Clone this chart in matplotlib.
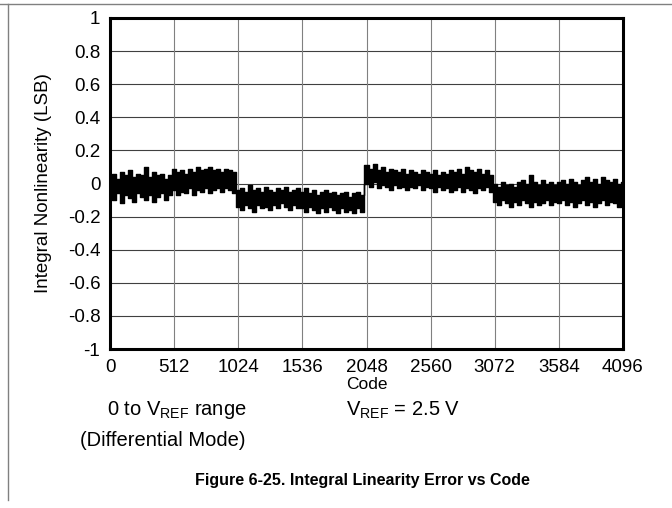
import numpy as np
import matplotlib
matplotlib.use("Agg")
import matplotlib.pyplot as plt

plt.rcParams['font.family'] = ['Liberation Sans', 'DejaVu Sans']
plt.rcParams['mathtext.fontset'] = 'custom'
plt.rcParams['mathtext.rm'] = 'Liberation Sans'
plt.rcParams['mathtext.it'] = 'Liberation Sans:italic'

# code axis sampled every 32 codes
codes = np.arange(0, 4097, 32)

# upper / lower envelope of the INL trace, read per 512-code block
upper = [
    0.04, 0.06, 0.03, 0.07, 0.05, 0.08, 0.04, 0.06, 0.05, 0.10, 0.04, 0.07, 0.05, 0.06, 0.03, 0.05,
    0.09, 0.07, 0.08, 0.06, 0.09, 0.07, 0.10, 0.08, 0.09, 0.10, 0.08, 0.09, 0.07, 0.09, 0.08, 0.07,
    -0.04, -0.03, -0.05, -0.01, -0.04, -0.03, -0.05, -0.02, -0.04, -0.05, -0.03, -0.04, -0.02, -0.05, -0.04, -0.03,
    -0.05, -0.03, -0.06, -0.04, -0.07, -0.05, -0.04, -0.06, -0.05, -0.07, -0.06, -0.05, -0.08, -0.06, -0.05, -0.07,
    0.11, 0.09, 0.12, 0.08, 0.10, 0.07, 0.09, 0.08, 0.07, 0.09, 0.06, 0.08, 0.07, 0.06, 0.08, 0.07,
    0.06, 0.08, 0.05, 0.07, 0.06, 0.08, 0.07, 0.09, 0.06, 0.10, 0.08, 0.07, 0.09, 0.06, 0.08, 0.05,
    0.00, -0.02, 0.01, -0.01, 0.00, -0.02, 0.01, 0.02, 0.00, 0.05, 0.01, -0.01, 0.02, 0.00, 0.01, -0.01,
    0.01, 0.02, 0.00, 0.03, 0.01, -0.01, 0.02, 0.04, 0.01, 0.03, 0.00, 0.04, 0.02, 0.01, 0.03, 0.00,
    0.01,
]
lower = [
    -0.08, -0.10, -0.06, -0.12, -0.07, -0.09, -0.11, -0.06, -0.08, -0.10, -0.07, -0.11, -0.08, -0.06, -0.10, -0.07,
    -0.04, -0.07, -0.05, -0.06, -0.03, -0.07, -0.04, -0.05, -0.03, -0.06, -0.04, -0.03, -0.05, -0.03, -0.04, -0.06,
    -0.14, -0.16, -0.13, -0.15, -0.17, -0.13, -0.15, -0.14, -0.16, -0.13, -0.15, -0.12, -0.14, -0.16, -0.13, -0.15,
    -0.15, -0.17, -0.14, -0.16, -0.18, -0.15, -0.17, -0.14, -0.16, -0.18, -0.15, -0.17, -0.16, -0.18, -0.15, -0.17,
    0.00, -0.02, 0.01, -0.03, -0.01, -0.02, -0.04, -0.01, -0.03, -0.02, -0.04, -0.02, -0.03, -0.01, -0.04, -0.02,
    -0.03, -0.05, -0.02, -0.04, -0.03, -0.05, -0.04, -0.02, -0.05, -0.03, -0.04, -0.06, -0.03, -0.04, -0.02, -0.05,
    -0.11, -0.13, -0.10, -0.12, -0.14, -0.11, -0.13, -0.10, -0.12, -0.14, -0.11, -0.13, -0.12, -0.10, -0.13, -0.11,
    -0.12, -0.10, -0.13, -0.11, -0.14, -0.12, -0.10, -0.13, -0.11, -0.14, -0.12, -0.10, -0.13, -0.11, -0.12, -0.14,
    -0.12,
]

xticks = [0, 512, 1024, 1536, 2048, 2560, 3072, 3584, 4096]
yticks = [1, 0.8, 0.6, 0.4, 0.2, 0, -0.2, -0.4, -0.6, -0.8, -1]
ylabels = ['1', '0.8', '0.6', '0.4', '0.2', '0', '-0.2', '-0.4', '-0.6', '-0.8', '-1']

fig = plt.figure(figsize=(6.72, 5.08), dpi=100)
ax = fig.add_axes([110/672, 1 - 349/508, 513/672, 331/508])

ax.fill_between(codes, lower, upper, step='mid', color='black', lw=1.0, edgecolor='black')

ax.set_xlim(0, 4096)
ax.set_ylim(-1, 1)
ax.set_xticks(xticks)
ax.set_yticks(yticks)
ax.set_yticklabels(ylabels)
ax.tick_params(length=0, labelsize=13.5)
ax.tick_params(axis='x', pad=7.5)
ax.tick_params(axis='y', pad=7)
for y in yticks[1:-1]:
    ax.axhline(y, color='#404040', lw=0.8, zorder=0)
for x in xticks[1:-1]:
    ax.axvline(x, color='#808080', lw=0.8, zorder=0)
for s in ax.spines.values():
    s.set_linewidth(2.2)
ax.set_xlabel('Code', fontsize=12.5)
ax.xaxis.set_label_coords(0.5, -(377 - 349) / 331)
ax.set_ylabel('Integral Nonlinearity (LSB)', fontsize=13.5)
ax.yaxis.set_label_coords(-58/513, 0.5)

# page frame lines
fig.add_artist(plt.Line2D([0, 1], [1 - 4/508, 1 - 4/508], color='#808080', lw=1))
fig.add_artist(plt.Line2D([8/672, 8/672], [1 - 4/508, 1 - 500/508], color='#808080', lw=1))

fig.text(107/672, 1 - 410/508, r'0 to V$_{\mathrm{REF}}$ range', fontsize=14.5, va='center')
fig.text(346/672, 1 - 410/508, r'V$_{\mathrm{REF}}$ = 2.5 V', fontsize=14.5, va='center')
fig.text(80/672, 1 - 441/508, '(Differential Mode)', fontsize=14.5, va='center')
fig.text(362/672, 1 - 481/508, 'Figure 6-25. Integral Linearity Error vs Code',
         fontsize=11.5, fontweight='bold', ha='center', va='center')

fig.savefig('out.png', dpi=100)
